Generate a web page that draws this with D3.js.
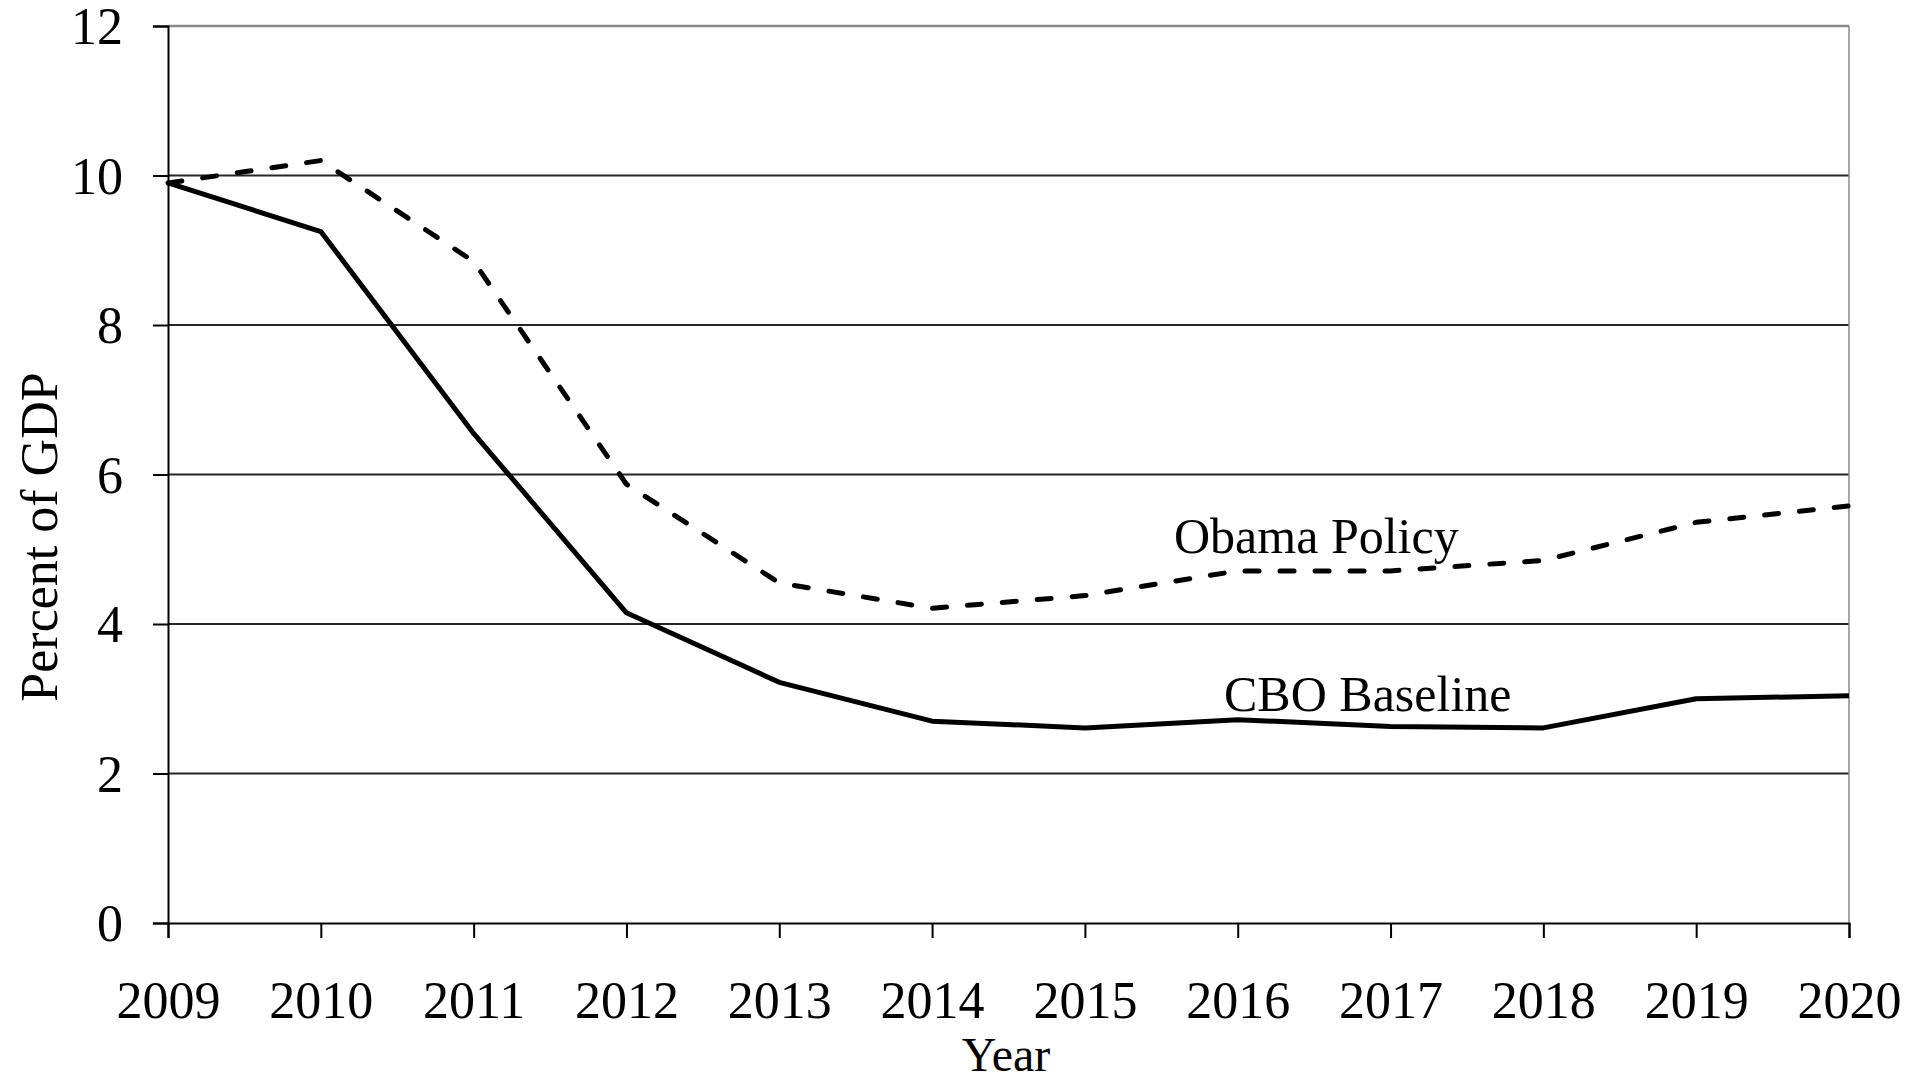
<!DOCTYPE html>
<html>
<head>
<meta charset="utf-8">
<script src="https://cdn.jsdelivr.net/npm/d3@7/dist/d3.min.js"></script>
<style>
  html, body { margin: 0; padding: 0; background: #fff; }
  svg { display: block; }
  text { font-family: "Liberation Serif", "Times New Roman", serif; fill: #000; }
</style>
</head>
<body>
<svg id="chart" width="1911" height="1081"></svg>
<script>
const years = [2009, 2010, 2011, 2012, 2013, 2014, 2015, 2016, 2017, 2018, 2019, 2020];
const cboBaseline = [9.9, 9.25, 6.55, 4.15, 3.22, 2.7, 2.61, 2.72, 2.63, 2.61, 3.0, 3.04];
const obamaPolicy = [9.9, 10.2, 8.85, 5.87, 4.55, 4.21, 4.38, 4.71, 4.71, 4.85, 5.36, 5.58];
const yTicks = [0, 2, 4, 6, 8, 10, 12];

const svg = d3.select("#chart");
const L = 168, R = 1849, T = 26, B = 923;

const x = d3.scalePoint().domain(years).range([L, R]);
const y = d3.scaleLinear().domain([0, 12]).range([B, T]);

// gridlines
svg.append("g").selectAll("line")
  .data(yTicks.filter(d => d > 0))
  .join("line")
  .attr("x1", L).attr("x2", R)
  .attr("y1", d => y(d)).attr("y2", d => y(d))
  .attr("stroke", d => d === 12 ? "#8a8a8a" : "#262626")
  .attr("stroke-width", d => d === 12 ? 2.5 : 2);

// right border
svg.append("line")
  .attr("x1", R).attr("x2", R).attr("y1", T).attr("y2", B)
  .attr("stroke", "#8a8a8a").attr("stroke-width", 1.5);

// y axis
const yAxis = svg.append("g")
  .attr("transform", `translate(${L},0)`)
  .call(d3.axisLeft(y).tickValues(yTicks).tickSize(15).tickPadding(30).tickFormat(d3.format("d")));
yAxis.select(".domain").attr("stroke", "#000").attr("stroke-width", 2);
yAxis.selectAll(".tick line").attr("stroke", "#000").attr("stroke-width", 2);
yAxis.selectAll(".tick text")
  .style("font-family", '"Liberation Serif", serif')
  .attr("font-size", 52).attr("fill", "#000").attr("dy", "0.34em");

// x axis
const xAxis = svg.append("g")
  .attr("transform", `translate(0,${B})`)
  .call(d3.axisBottom(x).tickSize(15).tickFormat(d3.format("d")));
xAxis.select(".domain").attr("stroke", "#000").attr("stroke-width", 2);
xAxis.selectAll(".tick line").attr("stroke", "#000").attr("stroke-width", 2);
xAxis.selectAll(".tick text")
  .style("font-family", '"Liberation Serif", serif')
  .attr("font-size", 52).attr("fill", "#000")
  .attr("y", 95).attr("dy", 0);

// lines
const line = d3.line().x((d, i) => x(years[i])).y(d => y(d));

svg.append("path")
  .datum(cboBaseline)
  .attr("d", line)
  .attr("fill", "none")
  .attr("stroke", "#000")
  .attr("stroke-width", 5)
  .attr("stroke-linejoin", "round");

svg.append("path")
  .datum(obamaPolicy)
  .attr("d", line)
  .attr("fill", "none")
  .attr("stroke", "#000")
  .attr("stroke-width", 5)
  .attr("stroke-linecap", "round")
  .attr("stroke-dasharray", "14,21")
  .attr("stroke-linejoin", "round");

// series labels
svg.append("text")
  .attr("x", 1174).attr("y", 553)
  .attr("font-size", 50)
  .text("Obama Policy");

svg.append("text")
  .attr("x", 1224).attr("y", 711)
  .attr("font-size", 50)
  .text("CBO Baseline");

// axis titles
svg.append("text")
  .attr("x", 1006).attr("y", 1071)
  .attr("text-anchor", "middle")
  .attr("font-size", 48)
  .text("Year");

svg.append("text")
  .attr("transform", "translate(57,537) rotate(-90)")
  .attr("text-anchor", "middle")
  .attr("font-size", 52)
  .text("Percent of GDP");
</script>
</body>
</html>
